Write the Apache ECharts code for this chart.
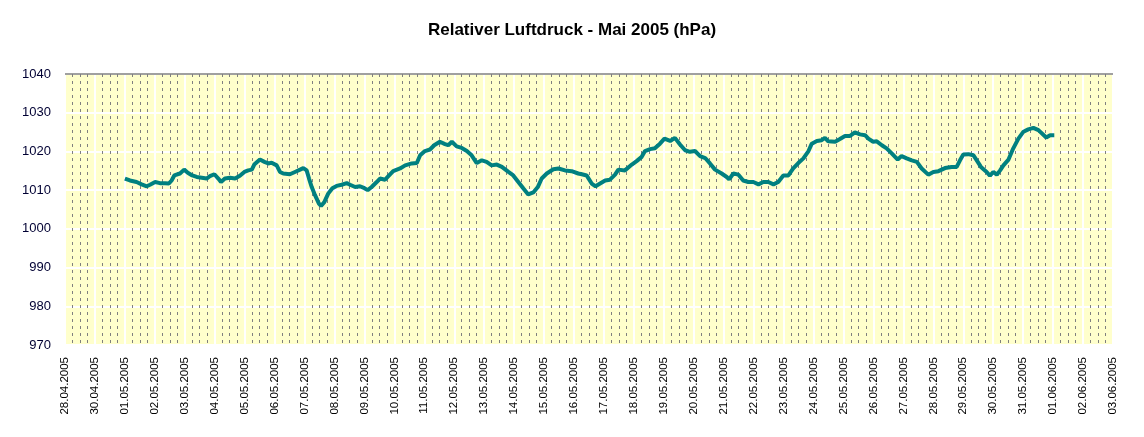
<!DOCTYPE html>
<html>
<head>
<meta charset="utf-8">
<script src="https://cdn.jsdelivr.net/npm/echarts@6/dist/echarts.min.js"></script>
<style>
html,body{margin:0;padding:0;background:#fff;}
#c{width:1144px;height:437px;}
</style>
</head>
<body>
<div id="c"></div>
<script>
const titleText = 'Relativer Luftdruck - Mai 2005 (hPa)';

const tickLabels = ['28.04.2005','30.04.2005',
  '01.05.2005','02.05.2005','03.05.2005','04.05.2005','05.05.2005','06.05.2005','07.05.2005',
  '08.05.2005','09.05.2005','10.05.2005','11.05.2005','12.05.2005','13.05.2005','14.05.2005',
  '15.05.2005','16.05.2005','17.05.2005','18.05.2005','19.05.2005','20.05.2005','21.05.2005',
  '22.05.2005','23.05.2005','24.05.2005','25.05.2005','26.05.2005','27.05.2005','28.05.2005',
  '29.05.2005','30.05.2005','31.05.2005','01.06.2005','02.06.2005','03.06.2005'];

const yTicks = [970, 980, 990, 1000, 1010, 1020, 1030, 1040];

// time in days since 01.05.2005 00:00
const dayOffset = [
  0.00,0.17,0.39,0.56,0.73,0.84,1.01,1.17,1.34,1.47,1.56,1.65,1.84,1.98,2.10,2.25,2.40,2.57,2.73,2.84,
  2.99,3.12,3.21,3.34,3.51,3.68,3.84,3.99,4.12,4.24,4.32,4.51,4.66,4.79,4.90,5.07,5.18,5.29,5.51,5.68,
  5.85,5.96,6.07,6.15,6.24,6.35,6.48,6.55,6.66,6.79,6.93,7.07,7.24,7.41,7.52,7.69,7.85,8.00,8.11,8.24,
  8.41,8.52,8.69,8.80,8.96,9.19,9.36,9.58,9.75,9.86,10.02,10.19,10.33,10.52,10.69,10.80,10.92,11.08,11.25,11.42,
  11.58,11.75,11.92,12.08,12.25,12.42,12.59,12.81,12.97,13.14,13.31,13.47,13.64,13.79,13.92,14.09,14.31,14.48,14.70,14.92,
  15.14,15.26,15.42,15.59,15.72,15.87,16.04,16.20,16.37,16.48,16.70,16.93,17.09,17.26,17.37,17.54,17.70,17.87,18.02,18.21,
  18.37,18.54,18.71,18.87,19.04,19.21,19.38,19.54,19.71,19.93,20.10,20.18,20.32,20.49,20.65,20.82,20.99,21.16,21.32,21.49,
  21.66,21.82,21.99,22.16,22.32,22.49,22.66,22.83,22.94,23.11,23.27,23.38,23.49,23.72,23.88,24.05,24.22,24.38,24.55,24.72,
  24.83,24.99,25.11,25.28,25.44,25.61,25.81,25.94,26.11,26.28,26.45,26.61,26.83,27.00,27.17,27.39,27.61,27.78,27.89,28.00,
  28.17,28.34,28.45,28.59,28.78,28.89,29.00,29.12,29.23,29.34,29.51,29.67,29.84,30.01,30.17,30.34,30.51,30.56,30.77,30.90,31.04
];

const pressure = [
  1013.0,1012.5,1012.1,1011.5,1011.0,1011.4,1012.1,1011.8,1011.8,1011.7,1012.5,1013.8,1014.3,1015.3,1014.5,1013.8,1013.4,1013.2,1013.0,1013.6,
  1014.1,1013.0,1012.1,1013.0,1013.2,1013.0,1013.7,1014.7,1015.1,1015.3,1016.6,1017.9,1017.3,1016.9,1017.1,1016.4,1014.7,1014.3,1014.1,1014.7,
  1015.3,1015.7,1015.1,1013.0,1010.8,1008.7,1006.5,1005.9,1006.9,1009.1,1010.5,1011.1,1011.4,1011.8,1011.4,1010.8,1011.0,1010.5,1010.0,1010.8,
  1012.1,1013.0,1012.7,1013.6,1014.9,1015.6,1016.4,1016.9,1017.0,1019.0,1020.1,1020.5,1021.6,1022.5,1021.9,1021.6,1022.5,1021.3,1020.9,1020.1,
  1019.0,1017.0,1017.7,1017.3,1016.4,1016.6,1016.0,1014.7,1013.8,1012.1,1010.4,1008.9,1009.4,1010.8,1013.0,1014.3,1015.4,1015.6,1015.1,1014.9,
  1014.3,1014.1,1013.8,1011.7,1011.0,1011.7,1012.5,1012.7,1014.0,1015.3,1015.1,1016.6,1017.5,1018.6,1020.1,1020.6,1020.8,1022.0,1023.3,1022.7,
  1023.5,1021.8,1020.3,1019.9,1020.1,1018.8,1018.3,1016.9,1015.3,1014.3,1013.4,1012.8,1014.3,1014.0,1012.5,1012.1,1012.1,1011.5,1012.1,1012.1,
  1011.5,1012.1,1013.8,1013.8,1015.6,1017.0,1018.2,1020.1,1022.0,1022.7,1022.9,1023.5,1022.6,1022.5,1023.2,1024.0,1024.0,1024.9,1024.4,1024.2,
  1023.3,1022.5,1022.6,1021.6,1020.8,1019.5,1017.9,1018.8,1018.2,1017.7,1017.3,1015.6,1014.0,1014.7,1014.9,1015.7,1016.0,1016.0,1017.7,1019.2,
  1019.3,1019.0,1017.7,1016.0,1014.7,1013.7,1014.7,1014.0,1015.1,1016.4,1017.9,1020.8,1023.3,1025.1,1025.7,1026.1,1025.5,1025.1,1023.6,1024.2,1024.2
];

const axisStart = -2;               // first tick label = 2 ticks before 01.05
const axisEnd = axisStart + tickLabels.length - 1;

const seriesData = dayOffset.map((d, i) => [d, pressure[i]]);

const chart = echarts.init(document.getElementById('c'), null, {renderer: 'canvas'});
chart.setOption({
  animation: false,
  backgroundColor: '#ffffff',
  title: {
    text: titleText,
    left: 'center',
    top: 17,
    textStyle: {fontFamily: 'Liberation Sans, Arial, sans-serif', fontSize: 17, fontWeight: 'bold', color: '#000000'}
  },
  grid: {
    left: 65, right: 31, top: 74, bottom: 92,
    show: true, backgroundColor: '#FFFFCC', borderWidth: 0
  },
  xAxis: {
    type: 'value',
    min: axisStart, max: axisEnd, interval: 1,
    axisLine: {show: false},
    axisTick: {show: false},
    minorTick: {show: false, splitNumber: 4},
    minorSplitLine: {show: true, lineStyle: {color: '#7f7f7f', width: 1, type: [3, 4]}},
    splitLine: {show: true, lineStyle: {color: '#ffffff', width: 2}},
    axisLabel: {
      rotate: 90,
      margin: 12,
      fontFamily: 'Liberation Sans, Arial, sans-serif',
      fontSize: 11.5,
      color: '#000000',
      formatter: v => tickLabels[Math.round(v - axisStart)] || ''
    }
  },
  yAxis: {
    type: 'value',
    min: yTicks[0], max: yTicks[yTicks.length - 1], interval: 10,
    axisLine: {show: false},
    axisTick: {show: false},
    splitLine: {show: true, lineStyle: {color: '#ffffff', width: 2}},
    axisLabel: {
      margin: 14,
      fontFamily: 'Liberation Sans, Arial, sans-serif',
      fontSize: 13,
      color: '#000033',
      formatter: v => String(v)
    }
  },
  series: [{
    type: 'line',
    data: seriesData,
    showSymbol: false,
    lineStyle: {color: '#008080', width: 4},
    markLine: {
      silent: true,
      symbol: ['none', 'none'],
      label: {show: false},
      lineStyle: {color: '#808080', type: 'solid', width: 1.5},
      data: [{yAxis: yTicks[yTicks.length - 1]}]
    }
  }]
});
</script>
</body>
</html>
